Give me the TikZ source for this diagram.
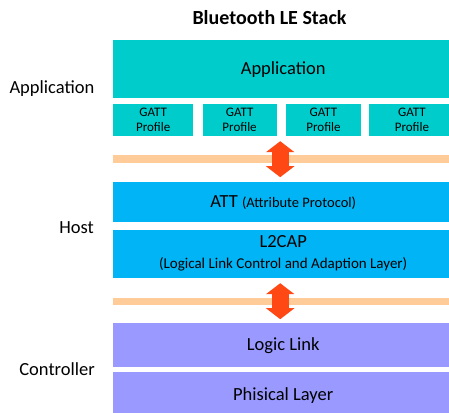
\documentclass[tikz,border=0pt]{standalone}
\usepackage{fontspec}
\setmainfont{Carlito}
\usepackage{tikz}
\usetikzlibrary{positioning,arrows.meta}
\definecolor{appcol}{RGB}{0,204,204}
\definecolor{hostcol}{RGB}{0,180,245}
\definecolor{ctrlcol}{RGB}{153,153,255}
\definecolor{bandcol}{RGB}{255,204,153}
\definecolor{arrcol}{RGB}{255,72,20}
\tikzset{
layer/.style={inner sep=0pt, minimum width=340pt, anchor=north west, font=\fontsize{18.5}{22}\selectfont}, % one layer of the stack
gatt/.style={fill=appcol, inner sep=0pt, minimum height=32pt, align=center, font=\fontsize{13}{15.5}\selectfont},
band/.style={fill=bandcol, inner sep=0pt, minimum width=340pt, anchor=north west},
side/.style={anchor=east, inner sep=0pt, font=\fontsize{18.5}{22}\selectfont}, % labels on the left
updown/.style={arrcol, line width=17pt, {Triangle[length=11pt,width=28pt]}-{Triangle[length=11pt,width=28pt]}},
}

\begin{document}
\begin{tikzpicture}[x=1pt,y=1pt]
    \useasboundingbox (0,0) rectangle (449,-412);
    \node[font=\bfseries\fontsize{20}{24}\selectfont] (title) at (269.5,-18) {Bluetooth LE Stack};
    % application
    \node[layer, fill=appcol, minimum height=58pt] (app) at (113,-40) {Application};
    \node[gatt, minimum width=80pt, below=5pt of app.south west, anchor=north west] (gatt1) {GATT\\Profile};
    \node[gatt, minimum width=74pt, right=9pt of gatt1] (gatt2) {GATT\\Profile};
    \node[gatt, minimum width=75pt, right=9pt of gatt2] (gatt3) {GATT\\Profile};
    \node[gatt, minimum width=85pt, right=8pt of gatt3] (gatt4) {GATT\\Profile};
    \node[band, minimum height=8pt] (band1) at (113,-155) {};
    % host
    \node[layer, fill=hostcol, minimum height=40pt] (att) at (113,-182)
        {ATT {\fontsize{14.5}{16}\selectfont(Attribute Protocol)}};
    \node[layer, fill=hostcol, minimum height=48pt, align=center, below=7pt of att.south west, anchor=north west] (l2cap)
        {L2CAP\\[-1pt]{\fontsize{15}{17}\selectfont(Logical Link Control and Adaption Layer)}};
    \node[band, minimum height=7pt] (band2) at (113,-297.5) {};
    % controller
    \node[layer, fill=ctrlcol, minimum height=44pt] (ll) at (113,-323) {Logic Link};
    \node[layer, fill=ctrlcol, minimum height=48pt, below=4pt of ll.south west, anchor=north west] (phy) {Phisical Layer};
    \draw[updown] ([xshift=-3pt,yshift=18pt]band1.center) -- ([xshift=-3pt,yshift=-18pt]band1.center);
    \draw[updown] ([xshift=-3pt,yshift=18pt]band2.center) -- ([xshift=-3pt,yshift=-18pt]band2.center);
    \node[side] (lapp) at (94.5,-88.5) {Application};
    \node[side] (lhost) at (94,-228) {Host};
    \node[side] (lctrl) at (95,-369) {Controller};
\end{tikzpicture}
\end{document}
